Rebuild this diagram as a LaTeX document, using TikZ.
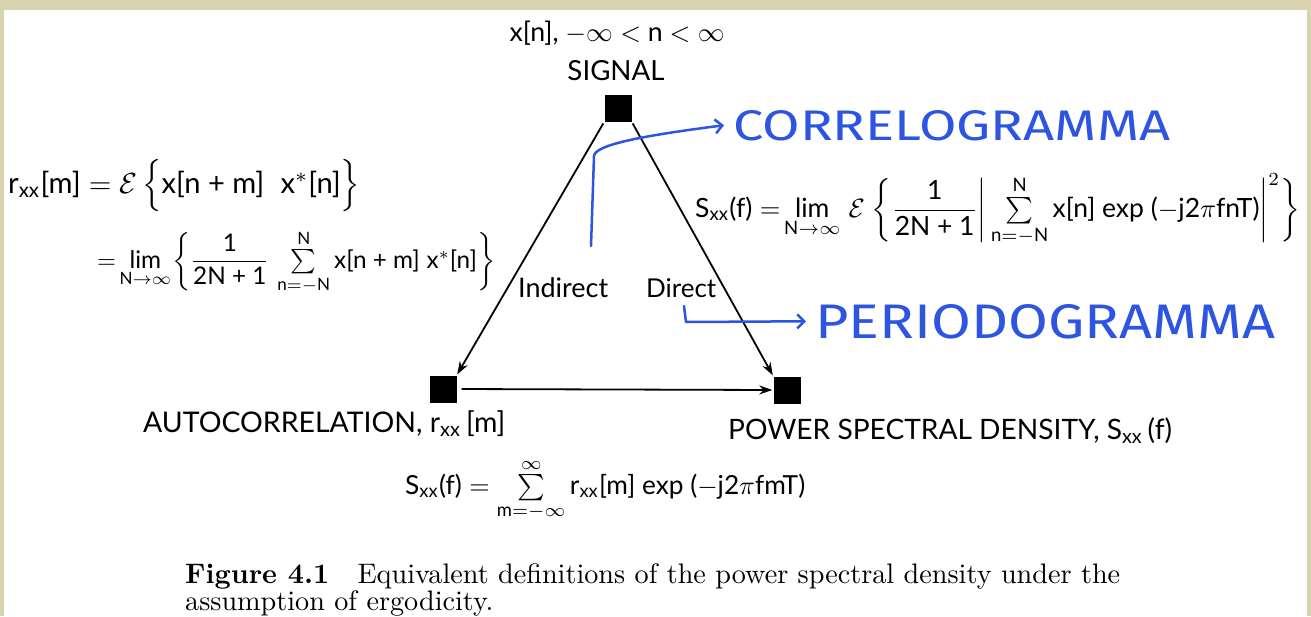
\documentclass[tikz,border=0pt]{standalone}
\usepackage{fontspec}
\usepackage{amsmath}
\usepackage{mathtools}
\usepackage{graphicx}
\usetikzlibrary{arrows.meta}
\newfontfamily\gill{Lato}
\newfontfamily\hand{Fira Sans}
\definecolor{beige}{RGB}{217,211,175}
\definecolor{ink}{RGB}{45,85,225}
\newcommand\Tx[1]{\text{#1}}
\newcommand\fitw[2]{\resizebox{#1}{!}{#2}}
\begin{document}
\begin{tikzpicture}[x=1pt,y=-1pt,
  box/.style={fill=black,minimum size=27pt,inner sep=0pt},
  arr/.style={line width=1.8pt,-{Stealth[length=13pt,width=9pt]}},
  lbl/.style={inner sep=0pt,font=\gill},
  handtext/.style={inner sep=0pt,text=ink,font=\hand},
  handline/.style={draw=ink,line width=2.5pt,line cap=round,line join=round},
  barb/.style={-{Straight Barb[length=7pt,width=14pt,line width=2.5pt]}}]
\useasboundingbox (0,0) rectangle (1311,616);
\fill[beige] (0,0) rectangle (1311,616);
\fill[white] (4,10) rectangle (1307,616);
% vertices
\node[box] (sig) at (618,108) {};
\node[box] (ac) at (443,389) {};
\node[box] (psd) at (787,390) {};
% connectors
\draw[arr,shorten <=2pt,shorten >=1pt] (sig.south west) -- (ac.north east);
\draw[arr,shorten <=2pt,shorten >=1pt] (sig.south east) -- (psd.north west);
\draw[arr,shorten <=5pt,shorten >=1pt] (ac.east) -- (psd.west);
% labels
\node[lbl,anchor=base] (top) at (617,41) {\fitw{215pt}{x[n], $-\infty <$ n $< \infty$}};
\node[lbl,anchor=base] (signal) at (616,80) {\fitw{97pt}{SIGNAL}};
\node[lbl,anchor=base west] (ind) at (518,297) {\fitw{90pt}{Indirect}};
\node[lbl,anchor=base west] (dir) at (646,297) {\fitw{70pt}{Direct}};
\node[lbl,anchor=base west] (acl) at (143,432) {\fitw{362pt}{AUTOCORRELATION, $\Tx{r}_{\Tx{xx}}$\,[m]}};
\node[lbl,anchor=base west] (psdl) at (728,439) {\fitw{444pt}{POWER SPECTRAL DENSITY, S$_{\Tx{xx}}$\,(f)}};
% formulas
\node[lbl,anchor=base west] (f1) at (8,193) {\fitw{352pt}{$\Tx{r}_{\Tx{xx}}\Tx{[m]} = \mathcal{E}\,\Big\{\Tx{x[n + m]}\;\;\Tx{x}^{*}\Tx{[n]}\Big\}$}};
\node[lbl,anchor=base west] (f2) at (97,268) {\fitw{398pt}{$=\;\mathop{\Tx{lim}}\limits_{\mathclap{\Tx{N}\to\infty}}\;\bigg\{\dfrac{\Tx{1}}{\Tx{2N + 1}}\,\sum\limits_{\Tx{n} = -\Tx{N}}^{\Tx{N}}\Tx{x[n + m]}\;\Tx{x}^{*}\Tx{[n]}\bigg\}$}};
\node[lbl,anchor=base west] (f3) at (695,217) {\fitw{605pt}{$\Tx{S}_{\Tx{xx}}\Tx{(f)} =\;\mathop{\Tx{lim}}\limits_{\mathclap{\Tx{N}\to\infty}}\;\;\mathcal{E}\ \bigg\{\dfrac{\Tx{1}}{\Tx{2N + 1}}\bigg|\sum\limits_{\Tx{n} = -\Tx{N}}^{\Tx{N}}\Tx{x[n] exp (}{-}\Tx{j2}\pi\Tx{fnT)}\bigg|^{2}\bigg\}$}};
\node[lbl,anchor=base west] (f4) at (405,494) {\fitw{400pt}{$\Tx{S}_{\Tx{xx}}\Tx{(f)} = \sum\limits_{\Tx{m} = -\infty}^{\infty}\Tx{r}_{\Tx{xx}}\Tx{[m] exp (}{-}\Tx{j2}\pi\Tx{fmT)}$}};
% caption
\node[inner sep=0pt,anchor=base west] (cap) at (185,583) {\fitw{935pt}{\def\arraystretch{0.72}\begin{tabular}[t]{@{}l@{}}\textbf{Figure 4.1}\quad Equivalent definitions of the power spectral density under the\\ assumption of ergodicity.\end{tabular}}};
% handwritten notes
\node[handtext,anchor=base west] (corr) at (733,140) {\resizebox{437pt}{30pt}{CORRELOGRAMMA}};
\node[handtext,anchor=base west] (peri) at (815,338) {\resizebox{460pt}{34pt}{PERIODOGRAMMA}};
\coordinate (cs) at (591,246);
\coordinate (ps) at (684,306);
\draw[handline,barb] (cs) -- (594,156) .. controls (595,145) and (640,136) .. ([xshift=-9pt]corr.west);
\draw[handline,barb] (ps) -- (686,322) -- ([xshift=-9pt]peri.west);
\end{tikzpicture}
\end{document}
